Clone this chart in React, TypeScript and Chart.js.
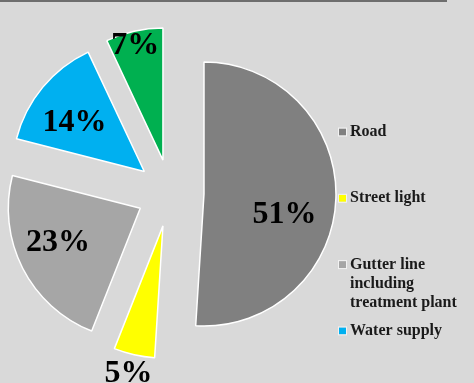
import React, { useEffect, useRef } from 'react';
import { Chart, registerables } from 'chart.js';

Chart.register(...registerables);

// ---- data ----
const categories = ['Road', 'Street light', 'Gutter line including treatment plant', 'Water supply', 'Others'];
const shares = [51, 5, 23, 14, 7];
const sliceColors = ['#808080', '#ffff00', '#a6a6a6', '#00b0f0', '#00b050'];

// ---- placement / style settings ----
const EXPLODE = 33.7;
const PIE_RADIUS = 132;
const labelRadiusFrac = [0.63, 1.15, 0.675, 0.646, 0.89];
const labelAngleShiftDeg = [12.9, 0.5, 4.4, -4.5, -1];
const FONT_FAMILY = "'Liberation Serif', 'Times New Roman', serif";
const BG = '#d9d9d9';

const explodePlugin = {
  id: 'explodeSlices',
  afterDatasetsUpdate(chart: any) {
    const meta = chart.getDatasetMeta(0);
    meta.data.forEach((arc: any) => {
      const mid = (arc.startAngle + arc.endAngle) / 2;
      arc.x += Math.cos(mid) * EXPLODE;
      arc.y += Math.sin(mid) * EXPLODE;
    });
  },
};

const labelPlugin = {
  id: 'sliceLabels',
  afterDatasetsDraw(chart: any) {
    const ctx = chart.ctx;
    const meta = chart.getDatasetMeta(0);
    const values = chart.data.datasets[0].data as number[];
    const total = values.reduce((a, b) => a + b, 0);
    ctx.save();
    ctx.font = `bold 32px ${FONT_FAMILY}`;
    ctx.fillStyle = '#000000';
    ctx.textAlign = 'center';
    ctx.textBaseline = 'middle';
    meta.data.forEach((arc: any, i: number) => {
      const ang = (arc.startAngle + arc.endAngle) / 2 + (labelAngleShiftDeg[i] * Math.PI) / 180;
      const r = arc.outerRadius * labelRadiusFrac[i];
      const x = arc.x + Math.cos(ang) * r;
      const y = arc.y + Math.sin(ang) * r;
      ctx.fillText(Math.round((values[i] / total) * 100) + '%', x, y);
    });
    ctx.restore();
  },
};

const legendPlugin = {
  id: 'sideLegend',
  afterDraw(chart: any) {
    const ctx = chart.ctx;
    const labels = chart.data.labels as string[];
    const colors = chart.data.datasets[0].backgroundColor as string[];
    const x0 = 339;
    const y0 = 132;
    const step = 66.3;
    const box = 7;
    const textX = 350;
    const lineH = 19;
    const maxW = 115;
    ctx.save();
    ctx.font = `bold 16px ${FONT_FAMILY}`;
    ctx.textAlign = 'left';
    ctx.textBaseline = 'middle';
    labels.forEach((name, i) => {
      const cy = y0 + i * step;
      ctx.fillStyle = colors[i];
      ctx.fillRect(x0, cy - box / 2, box, box);
      ctx.strokeStyle = '#f2f2f2';
      ctx.lineWidth = 1;
      ctx.strokeRect(x0 - 0.5, cy - box / 2 - 0.5, box + 1, box + 1);
      // wrap
      const words = name.split(' ');
      const lines: string[] = [];
      let cur = '';
      words.forEach((w) => {
        const test = cur ? cur + ' ' + w : w;
        if (ctx.measureText(test).width > maxW && cur) {
          lines.push(cur);
          cur = w;
        } else cur = test;
      });
      if (cur) lines.push(cur);
      ctx.fillStyle = '#1a1a1a';
      lines.forEach((ln, k) => ctx.fillText(ln, textX, cy + k * lineH));
    });
    ctx.restore();
  },
};

export default function App() {
  const ref = useRef<HTMLCanvasElement | null>(null);
  useEffect(() => {
    if (!ref.current) return;
    const chart = new Chart(ref.current, {
      type: 'pie',
      data: {
        labels: categories,
        datasets: [
          {
            data: shares,
            backgroundColor: sliceColors,
            borderColor: '#ffffff',
            borderWidth: 1.5,
            radius: PIE_RADIUS,
          } as any,
        ],
      },
      options: {
        animation: false,
        responsive: false,
        devicePixelRatio: 1,
        layout: { padding: { left: 0, right: 133.4, top: 3, bottom: 0 } },
        plugins: {
          legend: { display: false },
          tooltip: { enabled: false },
        },
      },
      plugins: [explodePlugin, labelPlugin, legendPlugin],
    });
    return () => chart.destroy();
  }, []);

  return (
    <div
      style={{
        position: 'fixed',
        left: 0,
        top: 0,
        width: 474,
        height: 383,
        background: BG,
        overflow: 'hidden',
      }}
    >
      <div style={{ position: 'absolute', left: 0, top: 0, width: 447, height: 2, background: '#6e6e6e' }} />
      <canvas ref={ref} width={474} height={383} style={{ display: 'block', width: 474, height: 383 }} />
    </div>
  );
}
